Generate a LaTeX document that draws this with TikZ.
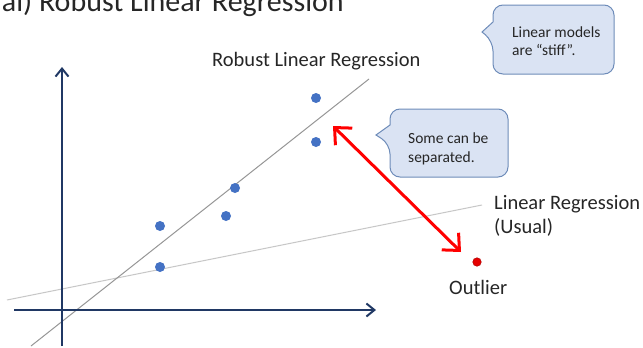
\documentclass[tikz,border=0pt]{standalone}
\usepackage{fontspec}
\setmainfont{Carlito}
\usetikzlibrary{arrows.meta}
\definecolor{navy}{RGB}{32,56,100}
\definecolor{ptblue}{RGB}{68,114,196}
\definecolor{callfill}{RGB}{218,227,243}
\definecolor{calldraw}{RGB}{110,140,185}
\definecolor{robgray}{RGB}{150,150,150}
\definecolor{usugray}{RGB}{200,200,200}
\begin{document}
\begin{tikzpicture}[x=1pt,y=-1pt,
  axisline/.style={draw=navy, line width=2pt, -{Straight Barb[length=8pt,width=13pt]}},
  dot/.style={circle, fill=ptblue, inner sep=0pt, minimum size=10pt},
  outdot/.style={circle, fill=red!90!black, draw=red!70!black, line width=0.5pt, inner sep=0pt, minimum size=8.5pt},
  lbl/.style={anchor=base west, inner sep=0pt, font=\fontsize{20.5}{24}\selectfont, text=black!85},
  calltext/.style={anchor=base west, inner sep=0pt, font=\fontsize{15.5}{18}\selectfont, text=black!85},
  callbox/.style={fill=callfill, draw=calldraw, line width=1pt},
  fitline/.style={line width=1pt},
  redarrow/.style={draw=red, line width=3pt, {Straight Barb[length=13pt,width=24pt]}-{Straight Barb[length=13pt,width=24pt]}}
]
\useasboundingbox (0,0) rectangle (643,348);
\clip (0,0) rectangle (643,348);

% title (cut off at top, as in the reference)
\node[anchor=base east, inner sep=0pt, font=\fontsize{30}{36}\selectfont, text=black!85] (title) at (344,12) {al) Robust Linear Regression};

% fit lines
\coordinate (rl1) at (31,346);
\coordinate (rl2) at (369,79);
\coordinate (ul1) at (7,300);
\coordinate (ul2) at (482,205);
\draw[fitline, draw=usugray] (ul1) -- (ul2);
\draw[fitline, draw=robgray] (rl1) -- (rl2);

% axes
\coordinate (xo) at (14,310);
\coordinate (xe) at (376,310);
\coordinate (yo) at (62,346);
\coordinate (ye) at (62,67);
\draw[axisline] (xo) -- (xe);
\draw[axisline] (yo) -- (ye);

% data points
\node[dot] (p1) at (316,98) {};
\node[dot] (p2) at (316,142) {};
\node[dot] (p3) at (235,188) {};
\node[dot] (p4) at (226,216) {};
\node[dot] (p5) at (160,226) {};
\node[dot] (p6) at (160,267) {};
\node[outdot] (out) at (477,262) {};

% labels
\node[lbl] (robl) at (212,66) {Robust Linear Regression};
\node[lbl] (usl1) at (494,209) {Linear Regression};
\node[lbl] (usl2) at (494,233) {(Usual)};
\node[lbl] (outl) at (449,294) {Outlier};

% red double arrow
\coordinate (ra1) at (333,126);
\coordinate (ra2) at (461,252);
\draw[redarrow] (ra1) -- (ra2);

% callout 1
\draw[callbox] (493,22) [rounded corners=10pt] -- (493,5) -- (614,5) -- (614,74) -- (493,74) -- (493,41) [sharp corners] -- (482,32) -- cycle;
\node[calltext] (c1a) at (512,37) {Linear models};
\node[calltext] (c1b) at (512,55) {are “stif{}f”.};

% callout 2
\draw[callbox] (390,125) [rounded corners=10pt] -- (390,109) -- (508,109) -- (508,177) -- (390,177) -- (390,144) [sharp corners] -- (376,135) -- cycle;
\node[calltext] (c2a) at (408,143) {Some can be};
\node[calltext] (c2b) at (408,162) {separated.};
\end{tikzpicture}
\end{document}
